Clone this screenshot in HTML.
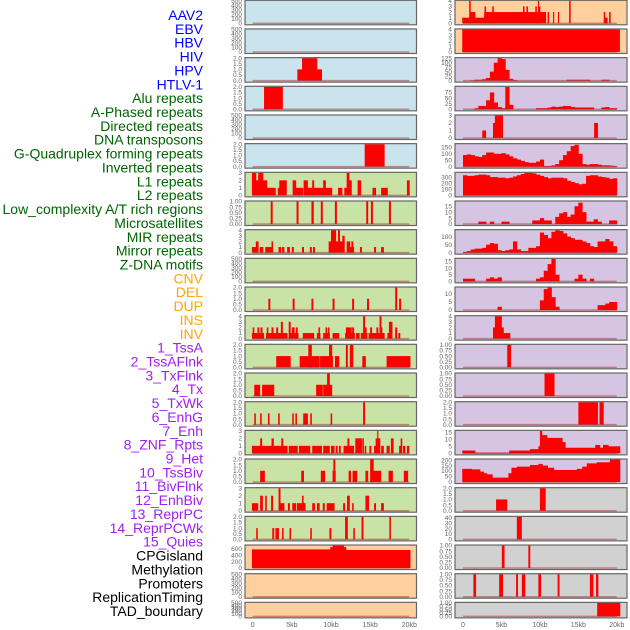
<!DOCTYPE html>
<html><head><meta charset="utf-8">
<style>
html,body{margin:0;padding:0;background:#fff;}
svg{display:block;font-family:"Liberation Sans",sans-serif;}
</style></head>
<body>
<svg id="chart" width="630" height="630" viewBox="0 0 630 630" xmlns="http://www.w3.org/2000/svg"></svg>
<script>
const labels = ["AAV2","EBV","HBV","HIV","HPV","HTLV-1","Alu repeats","A-Phased repeats","Directed repeats","DNA transposons","G-Quadruplex forming repeats","Inverted repeats","L1 repeats","L2 repeats","Low_complexity A/T rich regions","Microsatellites","MIR repeats","Mirror repeats","Z-DNA motifs","CNV","DEL","DUP","INS","INV","1_TssA","2_TssAFlnk","3_TxFlnk","4_Tx","5_TxWk","6_EnhG","7_Enh","8_ZNF_Rpts","9_Het","10_TssBiv","11_BivFlnk","12_EnhBiv","13_ReprPC","14_ReprPCWk","15_Quies","CPGisland","Methylation","Promoters","ReplicationTiming","TAD_boundary"];
const labelGroups = [6,13,5,15,5];
const groupColors = ["#0000ff","#006400","#ffa500","#a020f0","#000000"];
const xTickLabels = ["0","5kb","10kb","15kb","20kb"];
const xTickValues = [0,5,10,15,20];

const t500=["0","100","200","300","400","500"], t2=["0.0","0.5","1.0","1.5","2.0"], t3=["0","1","2","3"], t4=["0","1","2","3","4"], t1=["0.00","0.25","0.50","0.75","1.00"];

const leftFill = ["b","b","b","b","b","b","g","g","g","g","g","g","g","g","g","g","g","g","g","o","o","o"];
const rightFill = ["o","o","l","l","l","l","l","l","l","l","l","l","l","l","l","l","l","y","y","y","y","y"];
const leftYmax = [500,500,2,2,500,2,3,1,4,500,2,4,2,2,2,3,2,3,2,700,500,500];
const rightYmax = [4,4,125,100,3,175,370,19,140,17,14,4,1,1,2,16,205,2,42,1,1,1];
const leftTicks = [t500,t500,t2,t2,t500,t2,t3,t1,t4,t500,t2,t4,t2,t2,t2,t3,t2,t3,t2,["0","200","400","600"],t500,t500];
const rightTicks = [t4,t4,["0","25","50","75","100","125"],["0","25","50","75"],t3,["0","50","100","150"],["0","100","200","300"],["0","5","10","15"],["0","50","100"],["0","5","10","15"],["0","5","10"],t4,t1,t1,t2,["0","5","10","15"],["0","50","100","150","200"],t2,["0","10","20","30","40"],t1,t1,t1];

const leftSegs = [
 [],[],
 [[5.7,6.3,1],[6.3,8.2,2],[8.2,8.8,1]],
 [[1.45,3.8,2]],
 [],
 [[14.3,16.8,2]],
 [[-0.1,0.4,3],[0.4,0.7,2],[0.7,1.3,3],[1.3,1.8,2],[1.8,2.9,1],[3.2,3.4,1],[3.4,4.3,2],[5.1,5.5,2],[5.5,6.4,1],[6.5,7.0,2],[7.0,7.4,1],[7.6,7.8,2],[7.4,9.0,1],[9.0,9.3,2],[9.3,10.1,1],[10.9,11.4,1],[11.7,12.0,1],[12.0,12.3,3],[12.3,12.6,2],[13.4,13.8,2],[15.3,15.7,1],[16.4,17.2,1],[19.7,20.0,2]],
 [[2.3,2.5,1],[5.6,5.8,1],[7.5,7.75,1],[8.7,8.9,1],[10.5,10.7,1],[14.5,14.7,1],[15.1,15.3,1],[17.4,17.6,1]],
 [[-0.1,0.4,1],[0.4,0.7,2],[0.9,1.3,1],[1.6,2.4,1],[2.4,2.55,2],[3.3,3.6,1],[3.75,4.0,1],[4.4,4.7,1],[5.0,5.2,1],[6.3,6.5,1],[7.3,7.5,1],[7.7,7.9,1],[9.7,10.0,2],[10.0,10.6,4],[10.6,10.9,2],[10.9,11.1,4],[11.1,11.45,2],[11.45,11.7,3],[12.0,12.4,2],[12.4,12.6,1],[12.6,12.8,2],[12.8,12.9,1],[13.7,13.9,1],[15.5,15.7,1],[16.4,16.7,1]],
 [],
 [[2.0,2.2,1],[5.1,5.3,1],[7.5,7.7,1],[10.2,10.4,1],[12.7,12.9,1],[14.6,14.8,1],[18.7,18.9,1],[18.2,18.4,2]],
 [[-0.1,1.4,1],[0,0.15,2],[0.6,0.8,2],[1.0,1.2,2],[1.7,4.4,1],[1.8,1.95,2],[2.4,2.6,2],[3.0,3.2,2],[3.6,3.8,3],[4.6,5.0,1],[4.6,4.8,3],[5.0,5.3,2],[5.3,5.8,1],[5.5,5.7,2],[6.4,7.8,1],[8.2,8.6,1],[8.4,8.55,2],[9.0,9.8,1],[9.3,9.45,2],[9.6,9.75,2],[10.2,11.0,1],[11.8,13.0,1],[11.9,12.6,2],[12.7,12.9,2],[13.2,13.6,1],[13.8,14.6,1],[14.1,14.3,4],[14.3,14.5,2],[14.8,16.0,1],[15.0,15.2,2],[15.8,16.0,2],[16.2,16.4,4],[16.0,16.8,1],[16.3,16.5,2],[17.2,17.6,1],[17.4,17.8,3],[18.2,18.4,2],[18.6,18.8,1]],
 [[3.0,4.8,1],[6.0,8.5,1],[7.1,7.5,2],[8.6,10.2,1],[9.75,10.1,2],[10.5,11.0,1],[11.9,12.1,2],[12.4,12.8,2],[14.0,14.4,1],[17.1,20.1,1]],
 [[0.2,0.9,1],[1.2,2.7,1],[8.1,8.9,1],[9.0,10.1,1],[9.5,9.8,2]],
 [[0.2,0.35,1],[0.95,1.1,1],[1.95,2.1,1],[3.25,3.4,1],[5.05,5.2,1],[5.45,5.6,1],[6.45,7.0,1],[7.35,7.5,1],[9.95,10.1,1],[14.1,14.3,2]],
 [[-0.1,0.8,1],[0.95,1.15,2],[0.8,4.4,1],[2.4,2.65,2],[3.65,3.85,2],[4.6,5.7,1],[5.9,7.3,1],[7.6,8.8,1],[9.0,9.8,1],[10.0,10.4,1],[10.6,10.8,1],[11.0,11.2,1],[11.6,12.9,1],[12.1,12.3,2],[13.1,13.9,2],[14.0,14.15,2],[14.3,14.45,1],[14.9,15.1,1],[15.5,15.8,1],[15.7,16.25,2],[15.9,16.0,3],[16.4,16.7,1],[17.1,17.45,1],[17.65,17.95,2],[18.7,18.95,1],[18.9,19.05,2],[19.2,19.45,1],[19.7,19.95,1]],
 [[0.95,1.5,1],[6.2,6.5,1],[8.7,9.2,1],[10.2,10.55,1],[10.3,10.5,2],[12.25,12.5,1],[12.75,13.3,1],[14.4,14.7,1],[15.0,15.4,2],[15.4,16.35,1],[17.35,17.85,1],[19.3,19.8,1]],
 [[-0.1,0.65,1],[0.95,1.25,2],[1.6,1.75,2],[2.35,2.55,2],[3.3,3.5,3],[3.5,4.0,1],[4.5,4.7,1],[5.05,5.5,1],[5.65,6.7,1],[6.3,6.45,2],[7.6,7.9,1],[8.2,8.5,1],[8.95,9.15,1],[9.45,10.4,1],[11.55,11.75,1],[12.05,12.35,2],[12.7,12.85,1],[14.4,14.8,2],[15.5,15.7,1],[16.4,16.7,1]],
 [[0.45,0.6,1],[2.5,2.7,1],[2.9,3.3,1],[3.75,3.9,1],[4.7,4.85,1],[7.35,7.5,1],[9.8,10.0,1],[12.85,13.0,1],[11.8,12.1,2],[13.9,14.1,2],[17.45,17.6,2]],
 [[-0.1,9.9,580],[9.9,10.2,650],[10.2,11.6,700],[11.6,11.9,650],[11.9,20.1,560]],
 [],[]
];

const rightSegs = [
 [[-0.1,0.9,1],[0.8,0.95,4],[0.9,1.55,2],[1.55,2.75,1],[2.75,10.75,2],[2.8,2.95,3],[3.8,3.95,3],[7.8,7.95,3],[8.25,8.4,3],[9.4,9.55,3],[9.75,9.85,4],[9.85,10.0,3],[11.0,11.15,2],[11.7,11.8,2],[12.35,12.45,2],[13.8,13.95,4],[18.3,18.45,2],[18.45,18.75,1],[19.0,19.15,2]],
 [[-0.1,20.35,4]],
 [],[],
 [[2.5,2.95,1],[3.9,4.15,2],[4.15,5.15,3],[17.05,17.5,2]],
 [],[],[],[],[],[],
 [[3.9,4.15,2],[4.15,5.0,4],[5.0,5.25,2],[5.25,6.1,1]],
 [[5.75,6.2,1]],
 [[10.6,11.85,1]],
 [[15.0,17.5,2],[17.75,18.25,2]],
 [[-0.1,1.55,2],[1.55,6.0,0.5],[6.0,8.7,2],[8.7,9.8,3],[9.8,10.0,5],[10.0,10.25,16],[10.25,10.9,13],[10.9,12.9,11],[12.9,13.3,8],[13.3,17.2,4],[17.2,17.8,6],[17.8,18.2,4],[18.2,18.9,6],[18.9,20.4,5]],
 [[-0.1,1.1,120],[1.1,2.2,115],[2.2,2.7,95],[2.7,3.1,80],[3.1,3.8,70],[3.8,5.9,40],[5.9,6.3,80],[6.3,7.0,130],[7.0,8.7,140],[8.7,9.8,155],[9.8,10.3,165],[10.3,11.0,150],[11.0,11.8,130],[11.8,14.8,110],[14.8,15.5,120],[15.5,16.1,140],[16.1,17.4,170],[17.4,19.1,180],[19.1,20.4,205]],
 [[4.3,5.7,1],[10.0,10.7,2]],
 [[7.0,7.6,42]],
 [[5.05,5.35,1],[8.5,8.7,1]],
 [[1.35,1.65,1],[4.7,5.15,1],[6.9,7.1,1],[7.65,8.05,1],[9.8,10.1,1],[12.3,12.5,1],[16.5,16.9,1],[17.3,17.55,1]],
 [[17.45,20.4,1]]
];

// half-kb bins for smooth right-hand tracks
const rightBins2 = [0,0,2,5,5,8,15,50,100,125,120,60,10,3,0,0,0,0,0,0,0,0,0,0,0,0,0,5,5,5,5,5,5,0,0,0,5,5,0,0];
const rightBins3 = [0,0,0,5,15,15,40,75,30,10,5,100,20,0,0,0,0,0,0,5,5,5,8,12,10,12,15,15,10,8,8,8,8,8,0,0,8,10,5,5];
const rightBins5 = [90,95,90,80,75,90,110,110,100,100,105,95,80,65,55,45,35,30,30,40,55,5,5,10,20,50,90,120,160,170,100,20,15,20,20,15,10,10,8,5];
const rightBins6 = [330,320,320,330,340,340,330,300,300,290,290,280,290,310,330,350,370,370,360,340,320,300,280,290,290,290,280,240,220,200,180,190,320,330,330,310,300,290,270,280];
const rightBins7 = [0,0,0,0,2,2,0,2,0,0,2,2,0,0,0,0,0,0,3,3,5,3,3,0,6,9,10,6,8,15,18,10,2,2,4,2,0,0,3,3];
const rightBins8 = [5,10,20,25,25,30,50,60,55,15,10,15,20,70,20,10,10,30,30,40,125,110,90,130,140,135,120,100,90,80,80,70,60,40,35,70,70,85,70,40];
const rightBins9 = [2,2,2,0,0,0,2,3,2,3,0,0,0,0,0,0,0,0,0,2,3,8,13,17,5,0,0,0,0,2,5,2,0,2,0,0,0,0,0,0];
const rightBins10 = [0,0,0,0,0,0,0,0,0,2,0,0,0,0,0,0,0,0,0,0,6,13,14,8,2,0,0,0,0,0,0,0,0,0,0,3,3,4,5,5];
const rightBinsByRow = {2:rightBins2,3:rightBins3,5:rightBins5,6:rightBins6,7:rightBins7,8:rightBins8,9:rightBins9,10:rightBins10};

const fills = {b:"#c9e4ec",g:"#c9e2a5",o:"#ffd09e",l:"#d6c5e2",y:"#d1d1d1"};
const NS="http://www.w3.org/2000/svg";
const svg=document.getElementById("chart");
function mk(tag,attrs,parent){const e=document.createElementNS(NS,tag);for(const k in attrs)e.setAttribute(k,attrs[k]);(parent||svg).appendChild(e);return e;}

let li=0;
labelGroups.forEach((n,g)=>{for(let k=0;k<n;k++){
  const t=mk("text",{x:203,y:15+li*13.86+5,"text-anchor":"end","font-size":"14",fill:groupColors[g]});
  t.textContent=labels[li];
  
  
  li++;}});

const cols=[
 {x0:245,x1:416.5,zero:252.7,pk:7.83,fill:leftFill,ymax:leftYmax,ticks:leftTicks,segs:leftSegs,name:'left'},
 {x0:455,x1:627,zero:463,pk:7.69,fill:rightFill,ymax:rightYmax,ticks:rightTicks,segs:rightSegs,name:'right'}
];
cols.forEach(c=>{
  const xs=kb=>c.zero+kb*c.pk;
  for(let r=0;r<22;r++){
    const top=r*28.67+0.3, h=r<21?24.5:15.5;
    const g=mk("g",{});
    
    
    mk("rect",{x:c.x0,y:top,width:c.x1-c.x0,height:h,fill:fills[c.fill[r]]},g);
    const base=top+h-1.5, ymax=c.ymax[r];
    const ys=v=>base-Math.min(v,ymax)/ymax*(h-2);
    let segs=c.segs[r].slice();
    if(c.name==='right'&&rightBinsByRow[r]) rightBinsByRow[r].forEach((v,i)=>{if(v>0)segs.push([i*0.5,i*0.5+0.5,v]);});
    segs.forEach(s=>{
      const b=mk("rect",{x:xs(s[0]),y:ys(s[2]),width:Math.max(0.8,xs(s[1])-xs(s[0])+0.4),height:base-ys(s[2]),fill:"#ff0000"},g);
      
      
    });
    const bl=mk("line",{x1:xs(0),x2:xs(20),y1:base,y2:base,stroke:"rgba(160,30,30,0.45)","stroke-width":"1.5"},g);
    
    
    mk("rect",{x:c.x0,y:top,width:c.x1-c.x0,height:h,fill:"none",stroke:"#666","stroke-width":"1.2"},g);
    c.ticks[r].forEach(tl=>{
      const v=parseFloat(tl);
      const t=mk("text",{x:c.x0-3,y:ys(v)+2.2,"text-anchor":"end","font-size":"6.5",fill:"#666"},g);
      t.textContent=tl;
      
      
    });
  }
  xTickValues.forEach((v,i)=>{
    const t=mk("text",{x:xs(v),y:627,"text-anchor":"middle","font-size":"7",fill:"#666"});
    t.textContent=xTickLabels[i];
    
    
  });
});
</script>
</body></html>
